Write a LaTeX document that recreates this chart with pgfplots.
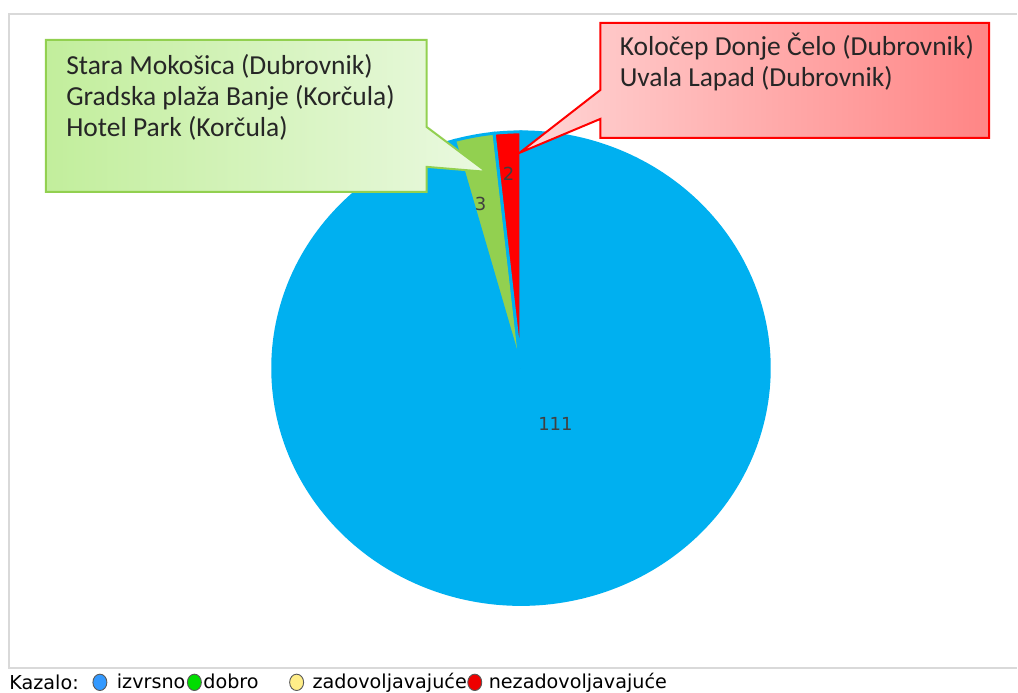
\documentclass[border=0pt]{standalone}
\usepackage{fontspec}
\setmainfont{DejaVu Sans}
\newfontfamily\calib{Carlito}
\usepackage{pgfplots}
\usepackage{pgfplotstable}
\pgfplotsset{compat=1.18}
\definecolor{pieblue}{HTML}{00B0F0}
\definecolor{piegreen}{HTML}{92D050}
\definecolor{piered}{HTML}{FF0000}
\definecolor{framegray}{HTML}{D9D9D9}
\definecolor{lblgray}{HTML}{404040}
\definecolor{lgblue}{HTML}{3399FF}
\definecolor{lggreen}{HTML}{00DD00}
\definecolor{lgyellow}{HTML}{FFEE88}
\definecolor{lgred}{HTML}{EE0000}
\definecolor{cgL}{HTML}{C2EE9C}
\definecolor{cgR}{HTML}{EAF9E0}
\definecolor{crL}{HTML}{FFD6D6}
\definecolor{crR}{HTML}{FF8585}
\pgfplotstableread{
label value
izvrsno 111
dobro 3
zadovoljavajuce 0
nezadovoljavajuce 2
}\piedata
\pgfplotstablegetelem{0}{value}\of\piedata \let\vA\pgfplotsretval
\pgfplotstablegetelem{1}{value}\of\piedata \let\vB\pgfplotsretval
\pgfplotstablegetelem{2}{value}\of\piedata \let\vC\pgfplotsretval
\pgfplotstablegetelem{3}{value}\of\piedata \let\vD\pgfplotsretval
\pgfmathsetmacro\total{\vA+\vB+\vC+\vD}
\pgfmathsetmacro\aB{90-360*(\vA/\total)}
\pgfmathsetmacro\aG{\aB-360*(\vB/\total)}
\pgfmathsetmacro\aY{\aG-360*(\vC/\total)}
\pgfmathsetmacro\aR{\aY-360*(\vD/\total)}
\def\cx{521.5}\def\cy{368.5}\def\rx{248.5}\def\ry{236.5}
\newcommand\lgimg[3]{\addlegendimage{legend image code/.code={%
  \path[draw=none, fill=none] (-#2pt,0pt) -- (#3pt,0pt);
  \filldraw[fill=#1, draw=black!65, line width=0.45pt] (0pt,0pt) ellipse[x radius=3.5pt, y radius=4.1pt];}}}
\begin{document}
\begin{tikzpicture}
\begin{axis}[
  scale only axis, width=509pt, height=346.5pt,
  xmin=0, xmax=1018, ymin=0, ymax=693, y dir=reverse,
  hide axis, clip=false,
  legend style={at={(axis cs:92,683)}, anchor=west, draw=none, fill=none,
    font=\fontsize{9.6}{11}\selectfont, inner sep=0pt, outer sep=0pt,
    nodes={inner sep=0pt, outer sep=0pt},
    /tikz/column sep=0pt},
  legend columns=-1,
]
\path[fill=white] (axis cs:0,0) rectangle (axis cs:1018,693);
\draw[framegray, line width=1pt] (axis cs:1018,14) -- (axis cs:9,14) -- (axis cs:9,669) -- (axis cs:1018,669);
% pie slices
\addplot[fill=pieblue, draw=pieblue, line width=1.5pt, domain=\aB:90, samples=240, variable=\t, forget plot]
  ({\cx+\rx*cos(\t)}, {\cy-\ry*sin(\t)}) -- (axis cs:\cx,\cy) -- cycle;
\addplot[fill=piegreen, draw=pieblue, line width=1.5pt, domain=\aG:\aB, samples=20, variable=\t, forget plot]
  ({\cx+\rx*cos(\t)}, {\cy-\ry*sin(\t)}) -- (axis cs:\cx,\cy) -- cycle;
\addplot[fill=piered, draw=pieblue, line width=1.5pt, domain=\aR:\aY, samples=20, variable=\t, forget plot]
  ({\cx+\rx*cos(\t)}, {\cy-\ry*sin(\t)}) -- (axis cs:\cx,\cy) -- cycle;
% data labels
\node[lblgray, font=\fontsize{9}{11}\selectfont, anchor=center] at (axis cs:556,424) {111};
\node[lblgray, font=\fontsize{9}{11}\selectfont, anchor=center] at (axis cs:481,204) {3};
\node[lblgray, font=\fontsize{9}{11}\selectfont, anchor=center] at (axis cs:509,174) {2};
% callouts
\path[left color=cgL, right color=cgR, draw=piegreen, line width=1pt]
  (axis cs:46,40) -- (axis cs:427,40) -- (axis cs:427,127) -- (axis cs:487,172) -- (axis cs:427,167)
  -- (axis cs:427,192) -- (axis cs:46,192) -- cycle;
\path[left color=crL, right color=crR, draw=piered, line width=1pt]
  (axis cs:601,23) -- (axis cs:990,23) -- (axis cs:990,138) -- (axis cs:601,138) -- (axis cs:601,119)
  -- (axis cs:520,153) -- (axis cs:601,90) -- cycle;
\node[anchor=base west, inner sep=0pt, font=\calib\fontsize{13.75}{15}\selectfont, black!85] at (axis cs:66,75) {Stara Mokošica (Dubrovnik)};
\node[anchor=base west, inner sep=0pt, font=\calib\fontsize{13.75}{15}\selectfont, black!85] at (axis cs:66,106) {Gradska plaža Banje (Korčula)};
\node[anchor=base west, inner sep=0pt, font=\calib\fontsize{13.75}{15}\selectfont, black!85] at (axis cs:66,137) {Hotel Park (Korčula)};
\node[anchor=base west, inner sep=0pt, font=\calib\fontsize{13.75}{15}\selectfont, black!85] at (axis cs:620,56) {Koločep Donje Čelo (Dubrovnik)};
\node[anchor=base west, inner sep=0pt, font=\calib\fontsize{13.75}{15}\selectfont, black!85] at (axis cs:620,87) {Uvala Lapad (Dubrovnik)};
% legend
\node[anchor=west, inner sep=0pt, font=\fontsize{9.6}{11}\selectfont] at (axis cs:9,683) {Kazalo:};
\lgimg{lgblue}{4}{8.5}
\addlegendentry{izvrsno}
\lgimg{lggreen}{4.5}{4.5}
\addlegendentry{dobro}
\lgimg{lgyellow}{19}{8}
\addlegendentry{zadovoljavajuće}
\lgimg{lgred}{4}{7}
\addlegendentry{nezadovoljavajuće}
\path (rel axis cs:0,0) rectangle (rel axis cs:1,1);
\end{axis}
\end{tikzpicture}
\end{document}
